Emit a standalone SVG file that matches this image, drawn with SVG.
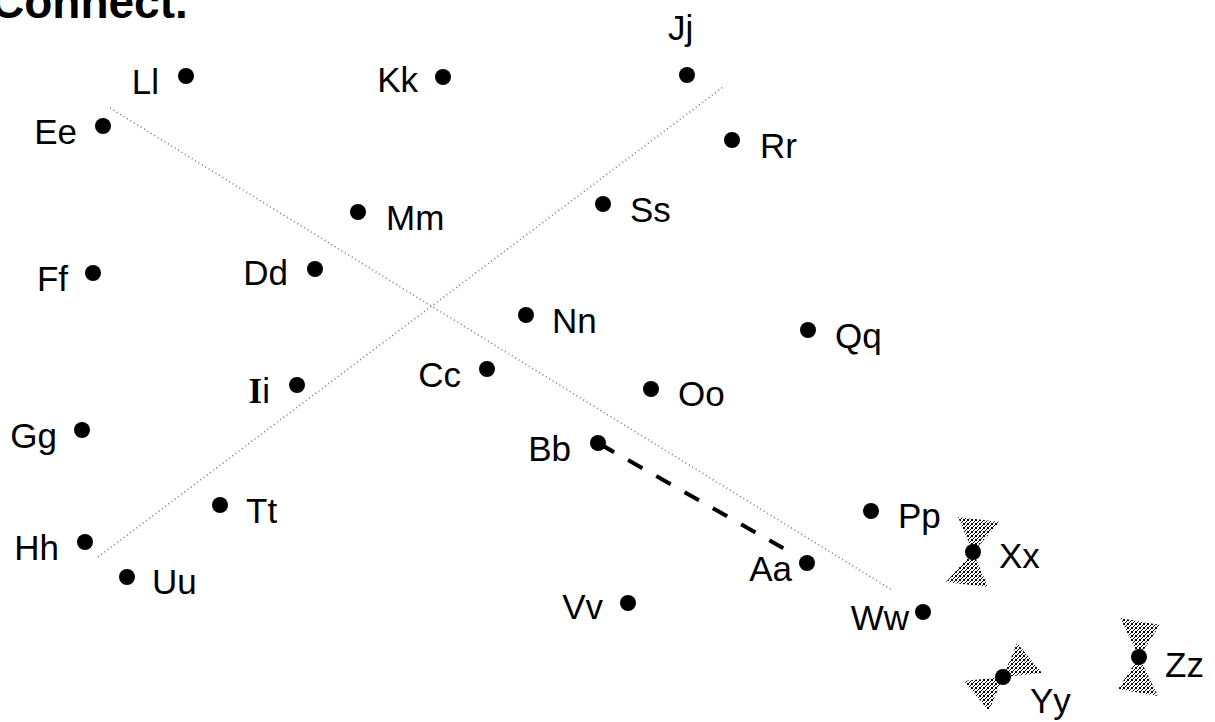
<svg xmlns="http://www.w3.org/2000/svg" width="1215" height="722" viewBox="0 0 1215 722">
<defs>
<pattern id="dither" width="4" height="4" patternUnits="userSpaceOnUse">
<rect x="0" y="0" width="1" height="1" fill="#000"/>
<rect x="2" y="1" width="1" height="1" fill="#000"/>
<rect x="1" y="2" width="1" height="1" fill="#000"/>
<rect x="3" y="3" width="1" height="1" fill="#000"/>
<rect x="3" y="0" width="1" height="1" fill="#000"/>
<rect x="0" y="3" width="1" height="1" fill="#000"/>
</pattern>
</defs>
<style>
text{font-family:"Liberation Sans",Arial,sans-serif;font-size:35px;fill:#000}
.t{font-weight:bold;font-size:46px}
.l{text-anchor:end}
.dot{fill:#000}
.dotted{stroke:#7a7a7a;stroke-width:1.6;stroke-dasharray:1 3;fill:none}
.dash{stroke:#000;stroke-width:4;stroke-dasharray:16.5 16;fill:none}
.bow{fill:url(#dither)}
</style>
<rect width="1215" height="722" fill="#fff"/>
<text class="t" x="-9" y="18">Connect.</text>
<g id="connectors">
<line class="dotted" x1="110" y1="108" x2="892" y2="590"/>
<line class="dotted" x1="98" y1="557" x2="723" y2="87"/>
<line class="dash" x1="599.8" y1="444" x2="783.3" y2="548.2"/>
<path class="dash" d="M598 443 L613 451.5" stroke-dasharray="none"/>
</g>
<g id="node-Ll"><circle class="dot" cx="186" cy="76" r="8"/><text class="l" x="159" y="94">Ll</text></g>
<g id="node-Kk"><circle class="dot" cx="443" cy="77" r="8"/><text class="l" x="418" y="92">Kk</text></g>
<g id="node-Jj"><circle class="dot" cx="687" cy="75" r="8"/><text x="668" y="40">Jj</text></g>
<g id="node-Ee"><circle class="dot" cx="103" cy="126" r="8"/><text class="l" x="77" y="144">Ee</text></g>
<g id="node-Rr"><circle class="dot" cx="732" cy="140" r="8"/><text x="760" y="158">Rr</text></g>
<g id="node-Mm"><circle class="dot" cx="358" cy="212" r="8"/><text x="386" y="230">Mm</text></g>
<g id="node-Ss"><circle class="dot" cx="603" cy="204" r="8"/><text x="630" y="222">Ss</text></g>
<g id="node-Ff"><circle class="dot" cx="93" cy="273" r="8"/><text class="l" x="68" y="291">Ff</text></g>
<g id="node-Dd"><circle class="dot" cx="315" cy="269" r="8"/><text class="l" x="288" y="285">Dd</text></g>
<g id="node-Nn"><circle class="dot" cx="526" cy="315" r="8"/><text x="552" y="333">Nn</text></g>
<g id="node-Qq"><circle class="dot" cx="808" cy="330" r="8"/><text x="835" y="348">Qq</text></g>
<g id="node-Ii"><circle class="dot" cx="297" cy="385" r="8"/><text class="l" x="270" y="403"><tspan font-family="'Liberation Serif',serif" font-weight="bold">I</tspan>i</text></g>
<g id="node-Cc"><circle class="dot" cx="487" cy="369" r="8"/><text class="l" x="461" y="387">Cc</text></g>
<g id="node-Oo"><circle class="dot" cx="651" cy="389" r="8"/><text x="678" y="406">Oo</text></g>
<g id="node-Gg"><circle class="dot" cx="82" cy="430" r="8"/><text class="l" x="57" y="448">Gg</text></g>
<g id="node-Bb"><circle class="dot" cx="598" cy="443" r="8"/><text class="l" x="571" y="461">Bb</text></g>
<g id="node-Tt"><circle class="dot" cx="220" cy="505" r="8"/><text x="246" y="523">Tt</text></g>
<g id="node-Pp"><circle class="dot" cx="871" cy="511" r="8"/><text x="898" y="528">Pp</text></g>
<g id="node-Hh"><circle class="dot" cx="85" cy="542" r="8"/><text class="l" x="59" y="560">Hh</text></g>
<g id="node-Xx"><path class="bow" d="M973 552 L958 517 L1000 522 Z M973 552 L988 587 L946 582 Z"/><circle class="dot" cx="973" cy="552" r="8"/><text x="999" y="568">Xx</text></g>
<g id="node-Aa"><circle class="dot" cx="807" cy="563" r="8"/><text class="l" x="792" y="581">Aa</text></g>
<g id="node-Uu"><circle class="dot" cx="127" cy="577" r="8"/><text x="152" y="594">Uu</text></g>
<g id="node-Vv"><circle class="dot" cx="628" cy="603" r="8"/><text class="l" x="603" y="619">Vv</text></g>
<g id="node-Ww"><circle class="dot" cx="923" cy="612" r="8"/><text class="l" x="909" y="630">Ww</text></g>
<g id="node-Zz"><path class="bow" d="M1139 657 L1120 618 L1160 625 Z M1139 657 L1158 696 L1118 689 Z"/><circle class="dot" cx="1139" cy="657" r="8"/><text x="1165" y="677">Zz</text></g>
<g id="node-Yy"><path class="bow" d="M1003 677 L1017 643 L1042 673 Z M1003 677 L989 711 L964 681 Z"/><circle class="dot" cx="1003" cy="677" r="8"/><text x="1030" y="713">Yy</text></g>
</svg>
